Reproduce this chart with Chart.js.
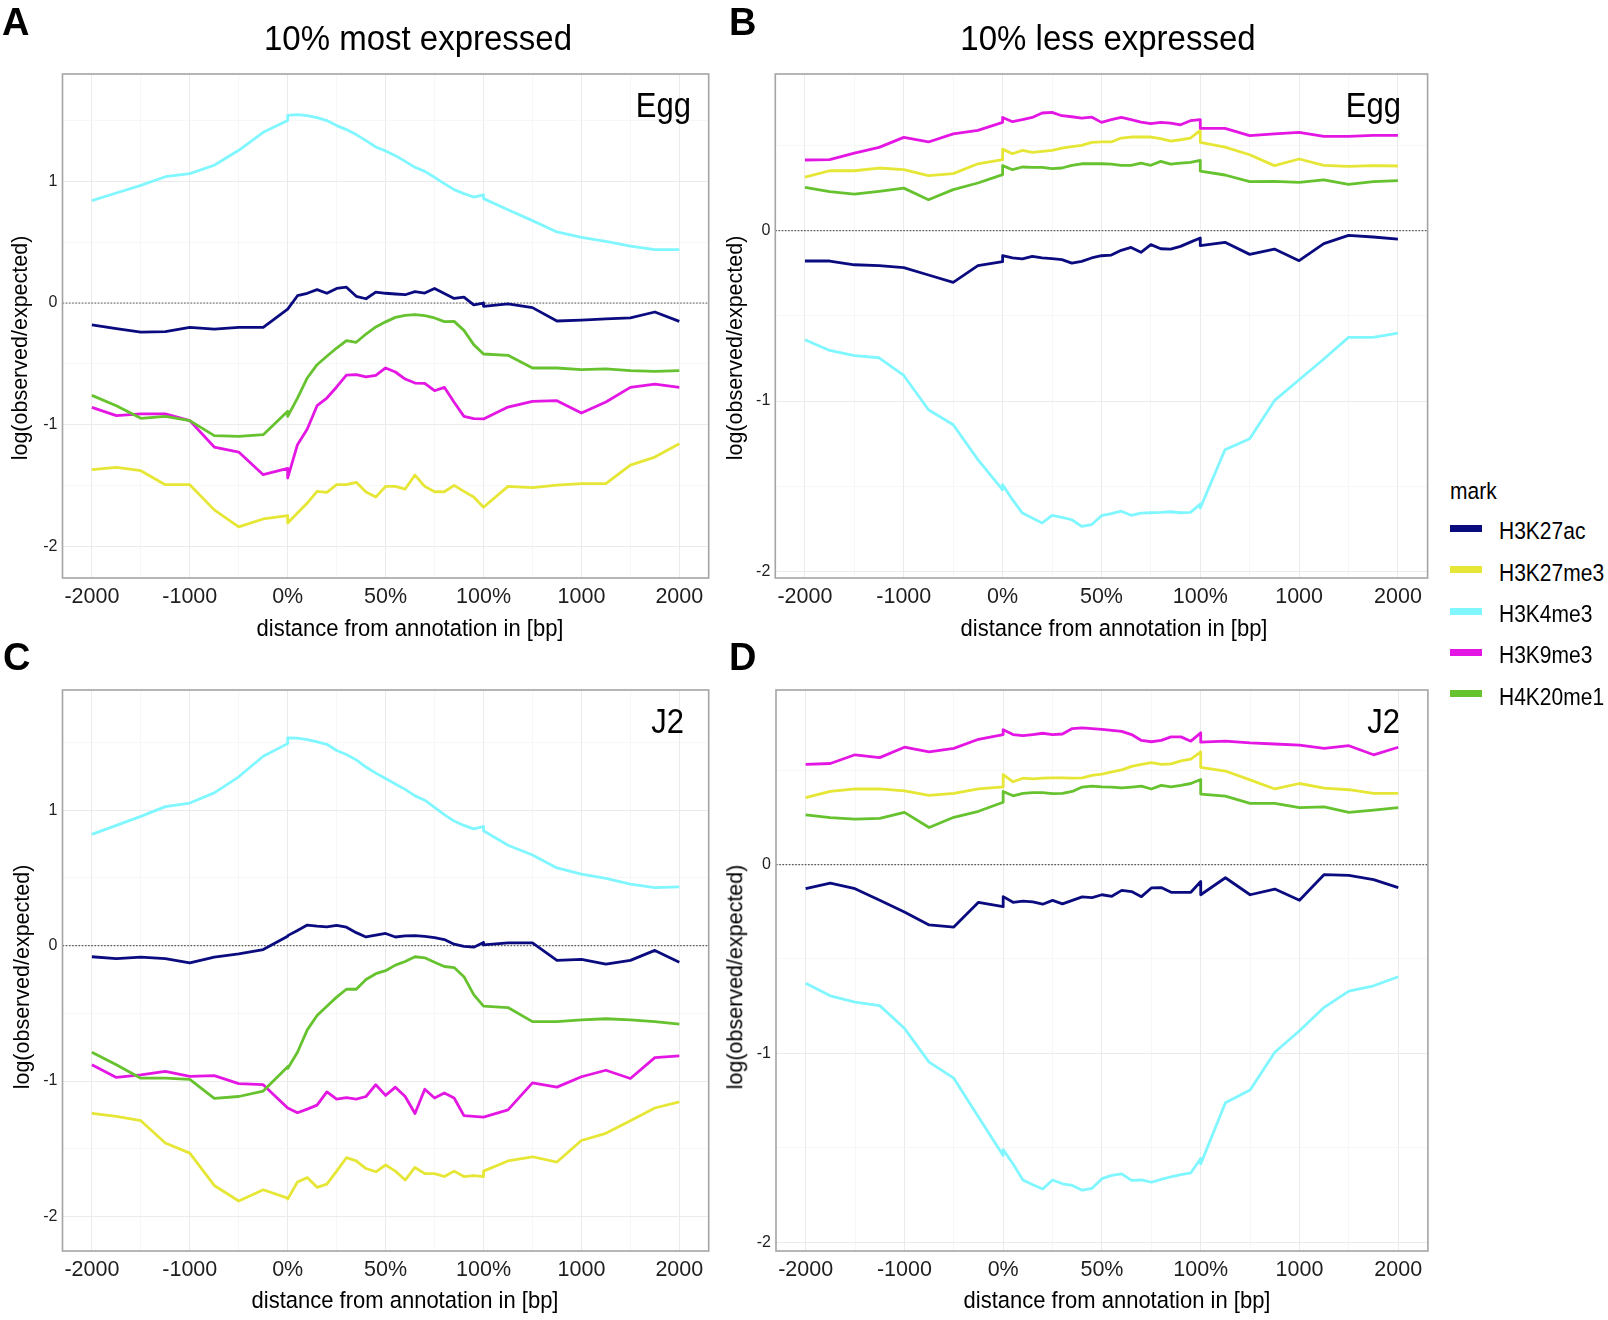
<!DOCTYPE html>
<html>
<head>
<meta charset="utf-8">
<script src="https://cdn.jsdelivr.net/npm/chart.js@4.4.1/dist/chart.umd.min.js"></script>
<style>
  html, body { margin: 0; padding: 0; background: #fff; }
  body { width: 1608px; height: 1320px; position: relative; overflow: hidden;
         font-family: "Liberation Sans", Arial, sans-serif; color: #000; }
  canvas { position: absolute; }
  .txt { position: absolute; line-height: 1; white-space: nowrap; }
  .letter { font-weight: bold; font-size: 38px; }
  .title { font-size: 33px; transform-origin: 50% 0; transform: translateX(-50%) scaleY(1.06); }
  .stage { font-size: 31px; transform-origin: 100% 0; transform: translateX(-100%) scaleY(1.12); }
  .xtitle { font-size: 22px; transform-origin: 50% 0; transform: translateX(-50%) scaleY(1.08); }
  .ytitle { font-size: 21.5px; transform: translate(-50%, -50%) rotate(-90deg); }
  .legtitle { font-size: 21px; transform-origin: 0 0; transform: scaleY(1.12); }
  .legkey { position: absolute; width: 32px; height: 7px; }
  .leglab { font-size: 21px; transform-origin: 0 0; transform: scaleY(1.12); }
</style>
</head>
<body>
<canvas id="chartA" width="720" height="650" style="left:0px;top:0px"></canvas>
<canvas id="chartB" width="740" height="650" style="left:700px;top:0px"></canvas>
<canvas id="chartC" width="720" height="670" style="left:0px;top:650px"></canvas>
<canvas id="chartD" width="740" height="670" style="left:700px;top:650px"></canvas>

<div class="txt letter" style="left:2px;top:3px">A</div>
<div class="txt letter" style="left:729px;top:3px">B</div>
<div class="txt letter" style="left:3px;top:638px">C</div>
<div class="txt letter" style="left:729px;top:638px">D</div>

<div class="txt title" style="left:418px;top:20px">10% most expressed</div>
<div class="txt title" style="left:1108px;top:20px">10% less expressed</div>

<div class="txt stage" style="left:691px;top:88px">Egg</div>
<div class="txt stage" style="left:1401px;top:88px">Egg</div>
<div class="txt stage" style="left:684px;top:704px">J2</div>
<div class="txt stage" style="left:1400px;top:704px">J2</div>

<div class="txt xtitle" style="left:410px;top:617px">distance from annotation in [bp]</div>
<div class="txt xtitle" style="left:1114px;top:617px">distance from annotation in [bp]</div>
<div class="txt xtitle" style="left:405px;top:1289px">distance from annotation in [bp]</div>
<div class="txt xtitle" style="left:1117px;top:1289px">distance from annotation in [bp]</div>

<div class="txt ytitle" style="left:21px;top:348px">log(observed/expected)</div>
<div class="txt ytitle" style="left:736px;top:348px">log(observed/expected)</div>
<div class="txt ytitle" style="left:23px;top:977px">log(observed/expected)</div>
<div class="txt ytitle" style="left:736px;top:977px">log(observed/expected)</div>

<div id="legend"></div>

<script>
// bin positions: upstream -2000..0 bp (step 250), gene body 0..100% (step 5%), downstream 0..2000 bp (step 250)
const binX = [0, 0.25, 0.5, 0.75, 1, 1.25, 1.5, 1.75, 2,
  2, 2.1, 2.2, 2.3, 2.4, 2.5, 2.6, 2.7, 2.8, 2.9, 3, 3.1, 3.2, 3.3, 3.4, 3.5, 3.6, 3.7, 3.8, 3.9, 4,
  4, 4.25, 4.5, 4.75, 5, 5.25, 5.5, 5.75, 6];
const xTickLabels = ['-2000', '-1000', '0%', '50%', '100%', '1000', '2000'];
const xGridTicks = [0, 0.5, 1, 1.5, 2, 2.5, 3, 3.5, 4, 4.5, 5, 5.5, 6];
const yTicksTall = [-2, -1.5, -1, -0.5, 0, 0.5, 1, 1.5];
const yTicksShort = [-2, -1.5, -1, -0.5, 0, 0.5];

const markNames = ['H3K27ac', 'H3K27me3', 'H3K4me3', 'H3K9me3', 'H4K20me1'];
const markColors = ['#0b0b80', '#e6e636', '#80f6ff', '#e316e3', '#66c22e'];

// A: Egg, 10% most expressed
const A_H3K27ac = [-0.18, -0.21, -0.24, -0.235, -0.20, -0.215, -0.20, -0.20, -0.05,
  -0.05, 0.06, 0.08, 0.11, 0.08, 0.12, 0.13, 0.055, 0.035, 0.09, 0.08, 0.074, 0.068, 0.093, 0.082, 0.12, 0.079, 0.038, 0.049, -0.016, 0.0,
  -0.027, -0.008, -0.038, -0.148, -0.14, -0.131, -0.123, -0.074, -0.151];
const A_H3K27me3 = [-1.37, -1.35, -1.378, -1.493, -1.493, -1.70, -1.84, -1.775, -1.748,
  -1.808, -1.726, -1.644, -1.548, -1.556, -1.493, -1.493, -1.474, -1.553, -1.595, -1.507, -1.507, -1.529, -1.414, -1.507, -1.551, -1.551, -1.499, -1.548, -1.595, -1.679,
  -1.679, -1.507, -1.518, -1.496, -1.485, -1.485, -1.332, -1.266, -1.156];
const A_H3K4me3 = [0.841, 0.904, 0.967, 1.038, 1.063, 1.132, 1.255, 1.403, 1.499,
  1.542, 1.548, 1.54, 1.523, 1.499, 1.458, 1.425, 1.384, 1.334, 1.282, 1.25, 1.211, 1.164, 1.115, 1.082, 1.033, 0.981, 0.932, 0.899, 0.871, 0.888,
  0.858, 0.767, 0.677, 0.584, 0.540, 0.507, 0.468, 0.438, 0.438];
const A_H3K9me3 = [-0.858, -0.926, -0.912, -0.912, -0.967, -1.184, -1.225, -1.411, -1.359,
  -1.438, -1.164, -1.036, -0.844, -0.781, -0.69, -0.592, -0.589, -0.608, -0.595, -0.534, -0.567, -0.625, -0.658, -0.66, -0.721, -0.693, -0.816, -0.932, -0.951, -0.953,
  -0.953, -0.855, -0.808, -0.803, -0.904, -0.814, -0.693, -0.666, -0.693];
const A_H4K20me1 = [-0.759, -0.844, -0.948, -0.932, -0.967, -1.09, -1.096, -1.082, -0.89,
  -0.932, -0.781, -0.616, -0.507, -0.438, -0.37, -0.31, -0.323, -0.255, -0.197, -0.155, -0.118, -0.101, -0.096, -0.104, -0.123, -0.153, -0.151, -0.225, -0.342, -0.419,
  -0.419, -0.43, -0.534, -0.534, -0.548, -0.542, -0.556, -0.562, -0.556];

// B: Egg, 10% less expressed
const B_H3K27ac = [-0.178, -0.178, -0.20, -0.205, -0.217, -0.26, -0.303, -0.205, -0.182,
  -0.147, -0.16, -0.166, -0.151, -0.16, -0.164, -0.17, -0.19, -0.18, -0.16, -0.147, -0.143, -0.115, -0.098, -0.127, -0.082, -0.106, -0.108, -0.092, -0.067, -0.043,
  -0.088, -0.068, -0.139, -0.108, -0.176, -0.076, -0.027, -0.037, -0.049];
const B_H3K27me3 = [0.315, 0.352, 0.352, 0.368, 0.358, 0.323, 0.335, 0.393, 0.417,
  0.479, 0.452, 0.472, 0.46, 0.466, 0.472, 0.485, 0.493, 0.501, 0.519, 0.522, 0.521, 0.544, 0.55, 0.55, 0.55, 0.54, 0.526, 0.534, 0.544, 0.589,
  0.519, 0.491, 0.446, 0.382, 0.421, 0.384, 0.378, 0.382, 0.38];
const B_H3K4me3 = [-0.64, -0.703, -0.734, -0.746, -0.85, -1.051, -1.139, -1.344, -1.521,
  -1.491, -1.579, -1.658, -1.687, -1.716, -1.671, -1.683, -1.697, -1.736, -1.726, -1.673, -1.661, -1.647, -1.671, -1.658, -1.656, -1.654, -1.65, -1.656, -1.654, -1.605,
  -1.628, -1.286, -1.221, -0.998, -0.875, -0.753, -0.626, -0.626, -0.601];
const B_H3K9me3 = [0.415, 0.417, 0.456, 0.489, 0.548, 0.521, 0.568, 0.589, 0.636,
  0.665, 0.64, 0.652, 0.665, 0.691, 0.695, 0.675, 0.669, 0.661, 0.667, 0.636, 0.652, 0.665, 0.652, 0.638, 0.628, 0.636, 0.632, 0.622, 0.646, 0.652,
  0.601, 0.601, 0.558, 0.569, 0.577, 0.554, 0.554, 0.56, 0.56];
const B_H4K20me1 = [0.254, 0.229, 0.215, 0.231, 0.25, 0.182, 0.241, 0.28, 0.329,
  0.382, 0.358, 0.374, 0.372, 0.372, 0.364, 0.368, 0.384, 0.393, 0.393, 0.393, 0.391, 0.384, 0.384, 0.397, 0.384, 0.407, 0.391, 0.397, 0.401, 0.413,
  0.35, 0.327, 0.288, 0.29, 0.284, 0.299, 0.272, 0.288, 0.294];

// C: J2, 10% most expressed
const C_H3K27ac = [-0.082, -0.096, -0.085, -0.096, -0.128, -0.085, -0.061, -0.029, 0.069,
  0.074, 0.112, 0.152, 0.144, 0.138, 0.149, 0.136, 0.096, 0.064, 0.077, 0.09, 0.064, 0.072, 0.074, 0.069, 0.059, 0.045, 0.011, -0.005, -0.011, 0.024,
  0.005, 0.021, 0.021, -0.109, -0.101, -0.136, -0.109, -0.035, -0.122];
const C_H3K27me3 = [-1.239, -1.261, -1.293, -1.457, -1.532, -1.771, -1.886, -1.803, -1.864,
  -1.872, -1.745, -1.713, -1.785, -1.761, -1.665, -1.566, -1.59, -1.646, -1.67, -1.62, -1.665, -1.731, -1.638, -1.684, -1.684, -1.705, -1.665, -1.705, -1.699, -1.705,
  -1.665, -1.59, -1.559, -1.598, -1.439, -1.386, -1.293, -1.199, -1.154];
const C_H3K4me3 = [0.822, 0.888, 0.955, 1.027, 1.053, 1.128, 1.247, 1.399, 1.492,
  1.535, 1.532, 1.521, 1.505, 1.487, 1.441, 1.412, 1.372, 1.319, 1.274, 1.234, 1.194, 1.154, 1.106, 1.074, 1.021, 0.968, 0.92, 0.888, 0.862, 0.88,
  0.848, 0.742, 0.67, 0.574, 0.529, 0.497, 0.455, 0.428, 0.434];
const C_H3K9me3 = [-0.88, -0.973, -0.955, -0.928, -0.965, -0.96, -1.019, -1.027, -1.199,
  -1.199, -1.234, -1.207, -1.178, -1.08, -1.133, -1.122, -1.133, -1.114, -1.027, -1.106, -1.045, -1.114, -1.239, -1.061, -1.125, -1.088, -1.125, -1.255, -1.261, -1.266,
  -1.266, -1.213, -1.013, -1.045, -0.968, -0.92, -0.981, -0.827, -0.814];
const C_H4K20me1 = [-0.787, -0.88, -0.979, -0.979, -0.987, -1.128, -1.114, -1.074, -0.894,
  -0.907, -0.787, -0.622, -0.516, -0.447, -0.38, -0.322, -0.322, -0.25, -0.207, -0.185, -0.144, -0.117, -0.082, -0.09, -0.122, -0.154, -0.162, -0.229, -0.362, -0.447,
  -0.447, -0.457, -0.561, -0.561, -0.548, -0.54, -0.548, -0.561, -0.58];

// D: J2, 10% less expressed
const D_H3K27ac = [-0.128, -0.099, -0.128, -0.189, -0.251, -0.32, -0.331, -0.20, -0.223,
  -0.17, -0.20, -0.194, -0.198, -0.21, -0.19, -0.208, -0.19, -0.171, -0.175, -0.16, -0.168, -0.137, -0.143, -0.17, -0.124, -0.122, -0.147, -0.147, -0.147, -0.09,
  -0.16, -0.07, -0.16, -0.13, -0.189, -0.053, -0.057, -0.08, -0.122];
const D_H3K27me3 = [0.354, 0.387, 0.40, 0.40, 0.39, 0.366, 0.377, 0.40, 0.411,
  0.476, 0.438, 0.457, 0.453, 0.457, 0.459, 0.459, 0.457, 0.459, 0.472, 0.479, 0.491, 0.501, 0.52, 0.53, 0.539, 0.53, 0.533, 0.549, 0.558, 0.596,
  0.514, 0.495, 0.448, 0.40, 0.429, 0.404, 0.396, 0.377, 0.377];
const D_H3K4me3 = [-0.629, -0.695, -0.728, -0.747, -0.867, -1.046, -1.131, -1.337, -1.541,
  -1.509, -1.585, -1.67, -1.695, -1.718, -1.67, -1.69, -1.699, -1.724, -1.714, -1.663, -1.646, -1.638, -1.672, -1.67, -1.682, -1.667, -1.653, -1.642, -1.632, -1.556,
  -1.585, -1.261, -1.194, -0.994, -0.88, -0.756, -0.67, -0.642, -0.594];
const D_H3K9me3 = [0.53, 0.535, 0.581, 0.566, 0.621, 0.596, 0.615, 0.663, 0.688,
  0.714, 0.688, 0.682, 0.688, 0.695, 0.688, 0.691, 0.72, 0.724, 0.72, 0.716, 0.71, 0.705, 0.688, 0.657, 0.65, 0.657, 0.676, 0.676, 0.653, 0.697,
  0.648, 0.653, 0.644, 0.638, 0.632, 0.615, 0.629, 0.581, 0.621];
const D_H4K20me1 = [0.263, 0.248, 0.24, 0.244, 0.276, 0.196, 0.25, 0.282, 0.33,
  0.387, 0.364, 0.377, 0.381, 0.381, 0.375, 0.377, 0.387, 0.41, 0.415, 0.411, 0.41, 0.406, 0.41, 0.415, 0.40, 0.419, 0.411, 0.419, 0.429, 0.45,
  0.373, 0.362, 0.324, 0.324, 0.301, 0.305, 0.276, 0.288, 0.301];

const xMin = -0.3, xMax = 6.3;

Chart.defaults.font.family = '"Liberation Sans", Arial, sans-serif';
Chart.defaults.color = '#222';

// grey box round the panel, drawn over the lines like ggplot's panel.border
const panelBorder = {
    id: 'panelBorder',
    afterDraw(chart) {
        const { ctx, chartArea: a } = chart;
        ctx.save();
        ctx.strokeStyle = '#a4a4a4';
        ctx.lineWidth = 1.6;
        ctx.strokeRect(a.left, a.top, a.right - a.left, a.bottom - a.top);
        ctx.restore();
    }
};

function build_panel(p) {
    const datasets = [{
        // dotted reference line at 0
        data: [{ x: xMin, y: 0 }, { x: xMax, y: 0 }],
        borderColor: '#595959',
        borderWidth: 1.2,
        borderDash: [1.6, 1.6],
        pointRadius: 0,
        order: 10
    }];
    p.series.forEach((vals, i) => {
        datasets.push({
            label: markNames[i],
            data: vals.map((v, k) => ({ x: binX[k], y: v })),
            borderColor: markColors[i],
            borderWidth: 2.8,
            pointRadius: 0,
            tension: 0,
            fill: false,
            borderJoinStyle: 'round',
            order: markNames.length - i
        });
    });

    new Chart(document.getElementById(p.id), {
        type: 'line',
        data: { datasets: datasets },
        options: {
            responsive: false,
            animation: false,
            events: [],
            layout: {
                padding: { left: 0, top: p.padTop, right: p.padRight, bottom: 0 }
            },
            plugins: {
                legend: { display: false },
                tooltip: { enabled: false }
            },
            scales: {
                x: {
                    type: 'linear',
                    min: xMin,
                    max: xMax,
                    afterBuildTicks: (s) => { s.ticks = xGridTicks.map(v => ({ value: v })); },
                    afterFit: (s) => { s.height = p.xAxisH; },
                    ticks: {
                        autoSkip: false,
                        maxRotation: 0,
                        minRotation: 0,
                        padding: 6,
                        color: '#1e1e1e',
                        font: { size: 21.5 },
                        callback: (v) => Number.isInteger(v) ? xTickLabels[v] : ''
                    },
                    grid: {
                        drawTicks: false,
                        color: (c) => Number.isInteger(c.tick.value) ? '#ebebeb' : '#f3f3f3',
                        lineWidth: (c) => Number.isInteger(c.tick.value) ? 1 : 0.7
                    },
                    border: { display: false }
                },
                y: {
                    type: 'linear',
                    min: p.yMin,
                    max: p.yMax,
                    afterBuildTicks: (s) => { s.ticks = p.yTicks.map(v => ({ value: v })); },
                    afterFit: (s) => { s.width = p.yAxisW; },
                    ticks: {
                        padding: 5,
                        color: '#1e1e1e',
                        font: { size: 16 },
                        callback: (v) => Number.isInteger(v) ? String(v) : ''
                    },
                    grid: {
                        drawTicks: false,
                        color: (c) => Number.isInteger(c.tick.value) ? '#ebebeb' : '#f3f3f3',
                        lineWidth: (c) => Number.isInteger(c.tick.value) ? 1 : 0.7
                    },
                    border: { display: false }
                }
            }
        },
        plugins: [panelBorder]
    });
}

const panels = [
    { id: 'chartA', series: [A_H3K27ac, A_H3K27me3, A_H3K4me3, A_H3K9me3, A_H4K20me1],
      yMin: -2.26, yMax: 1.882, yTicks: yTicksTall, yAxisW: 62.5, padTop: 74, padRight: 11.3, xAxisH: 72 },
    { id: 'chartB', series: [B_H3K27ac, B_H3K27me3, B_H3K4me3, B_H3K9me3, B_H4K20me1],
      yMin: -2.039, yMax: 0.92, yTicks: yTicksShort, yAxisW: 75.3, padTop: 74, padRight: 12.4, xAxisH: 72 },
    { id: 'chartC', series: [C_H3K27ac, C_H3K27me3, C_H3K4me3, C_H3K9me3, C_H4K20me1],
      yMin: -2.255, yMax: 1.888, yTicks: yTicksTall, yAxisW: 62.5, padTop: 40, padRight: 11.3, xAxisH: 69 },
    { id: 'chartD', series: [D_H3K27ac, D_H3K27me3, D_H3K4me3, D_H3K9me3, D_H4K20me1],
      yMin: -2.046, yMax: 0.924, yTicks: yTicksShort, yAxisW: 76, padTop: 40, padRight: 12.1, xAxisH: 69 }
];
panels.forEach(build_panel);

// legend (ggplot style, to the right of panel B/D)
const legend = document.getElementById('legend');
let html = '<div class="txt legtitle" style="left:1450px;top:479px">mark</div>';
const legY = [528.6, 569.9, 611.2, 652.5, 693.8];
markNames.forEach((name, i) => {
    html += '<div class="legkey" style="left:1450px;top:' + (legY[i] - 3.5) + 'px;background:' + markColors[i] + '"></div>';
    html += '<div class="txt leglab" style="left:1499px;top:' + (legY[i] - 9.3) + 'px">' + name + '</div>';
});
legend.innerHTML = html;
</script>
</body>
</html>
